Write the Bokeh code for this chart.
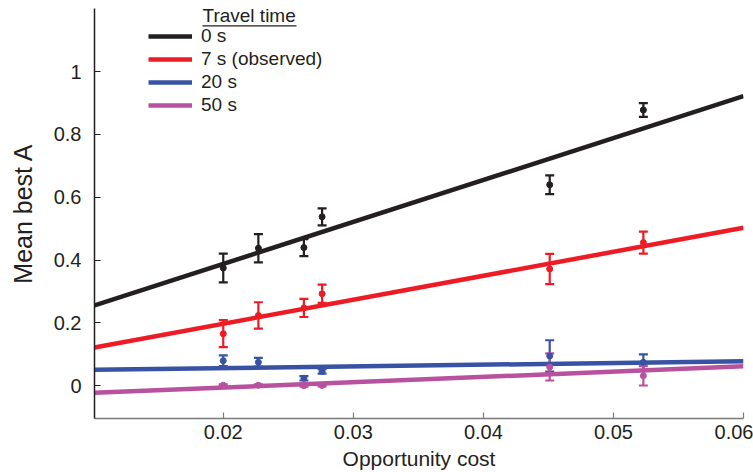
from bokeh.plotting import figure
from bokeh.models import (Range1d, FixedTicker, Legend, LegendItem, Label,
                          Whisker, ColumnDataSource, TeeHead)
from bokeh.embed import file_html
from bokeh.resources import INLINE

# ---------------- data ----------------
opportunity_cost = [0.0200, 0.0227, 0.0262, 0.0276, 0.0451, 0.0523]
travel_labels = ["0 s", "7 s (observed)", "20 s", "50 s"]

mean_0s = [0.375, 0.438, 0.440, 0.538, 0.640, 0.878]
sem_0s = [0.046, 0.045, 0.027, 0.027, 0.030, 0.022]
mean_7s = [0.166, 0.224, 0.248, 0.293, 0.372, 0.456]
sem_7s = [0.043, 0.042, 0.029, 0.029, 0.048, 0.035]
mean_20s = [0.080, 0.075, 0.024, 0.046, 0.095, 0.075]
sem_20s = [0.017, 0.014, 0.007, 0.007, 0.050, 0.025]
mean_50s = [0.002, 0.002, 0.000, 0.001, 0.060, 0.032]
sem_50s = [0.003, 0.003, 0.003, 0.003, 0.043, 0.031]

fit_x = [0.0101, 0.0600]
fit_0s = [0.256, 0.922]
fit_7s = [0.122, 0.503]
fit_20s = [0.051, 0.078]
fit_50s = [-0.022, 0.062]

x_ticks = [0.02, 0.03, 0.04, 0.05, 0.06]
x_tick_labels = ["0.02", "0.03", "0.04", "0.05", "0.06"]
y_ticks = [0.0, 0.2, 0.4, 0.6, 0.8, 1.0]
y_tick_labels = ["0", "0.2", "0.4", "0.6", "0.8", "1"]

colors = ["#231f20", "#ed1c24", "#3953a4", "#b8519e"]
FONT = "Liberation Sans"
TXT = "#231f20"

# ---------------- figure ----------------
X0, X1 = 0.0101, 0.0600
Y0, Y1 = -0.104, 1.201
W, H = 753, 472
BL, BR, BT, BB = 94, 10, 8, 53
FH = H - BT - BB  # frame height

p = figure(width=W, height=H, output_backend="svg", toolbar_location=None,
           x_range=Range1d(X0, X1), y_range=Range1d(Y0, Y1),
           min_border_left=BL, min_border_right=BR, min_border_top=BT,
           min_border_bottom=BB)
p.outline_line_color = None
p.grid.visible = False
p.background_fill_color = "white"

def dx(px):
    return X0 + (px - BL) / (W - BL - BR) * (X1 - X0)

def dy(py):
    return Y1 - (py - BT) / (H - BT - BB) * (Y1 - Y0)

# axes
xa = p.xaxis[0]
xa.ticker = FixedTicker(ticks=x_ticks)
xa.major_label_overrides = {t: l for t, l in zip(x_ticks, x_tick_labels)}
xa.axis_label = "Opportunity cost"
xa.axis_label_text_font = FONT
xa.axis_label_text_font_style = "normal"
xa.axis_label_text_font_size = "21px"
xa.axis_label_text_color = TXT
xa.axis_label_standoff = 5
xa.major_label_text_font = FONT
xa.major_label_text_font_size = "20px"
xa.major_label_text_color = TXT
xa.major_label_standoff = 6
xa.major_tick_in = 6
xa.major_tick_out = 0
xa.minor_tick_line_color = None
xa.axis_line_color = "#7a7a7a"
xa.axis_line_width = 1.5
xa.major_tick_line_color = "#7a7a7a"
xa.major_tick_line_width = 1.2

ya = p.yaxis[0]
ya.ticker = FixedTicker(ticks=y_ticks)
ya.major_label_overrides = {t: l for t, l in zip(y_ticks, y_tick_labels)}
ya.major_label_text_font = FONT
ya.major_label_text_font_size = "20px"
ya.major_label_text_color = TXT
ya.major_label_standoff = 13
ya.major_tick_in = 6
ya.major_tick_out = 0
ya.minor_tick_line_color = None
ya.axis_line_color = "#231f20"
ya.axis_line_width = 1.5
ya.major_tick_line_color = "#231f20"
ya.major_tick_line_width = 1.2
ya.axis_label = "Mean best A"
ya.axis_label_text_font = FONT
ya.axis_label_text_font_style = "normal"
ya.axis_label_text_font_size = "25px"
ya.axis_label_text_color = TXT
ya.axis_label_standoff = 14

# ---------------- series ----------------
means = [mean_0s, mean_7s, mean_20s, mean_50s]
sems = [sem_0s, sem_7s, sem_20s, sem_50s]
fits = [fit_0s, fit_7s, fit_20s, fit_50s]

for m, s, c in zip(means, sems, colors):
    src = ColumnDataSource(dict(x=opportunity_cost,
                                upper=[a + b for a, b in zip(m, s)],
                                lower=[a - b for a, b in zip(m, s)]))
    w = Whisker(source=src, base="x", upper="upper", lower="lower",
                dimension="height", line_color=c, line_width=2.2,
                upper_head=TeeHead(size=9, line_color=c, line_width=2.2),
                lower_head=TeeHead(size=9, line_color=c, line_width=2.2),
                level="underlay")
    p.add_layout(w)

line_renderers = []
for f, c in zip(fits, colors):
    r = p.line(fit_x, f, line_width=4.5, line_color=c)
    line_renderers.append(r)

for m, c in zip(means, colors):
    p.scatter(opportunity_cost, m, size=6, fill_color=c, line_color=c)

# ---------------- legend ----------------
legend = Legend(items=[LegendItem(label=lab, renderers=[r])
                       for lab, r in zip(travel_labels, line_renderers)],
                location=(148 - BL, H - BB - 117), orientation="vertical",
                glyph_width=44, glyph_height=22, label_height=22, spacing=1,
                label_standoff=9, padding=0, margin=0,
                border_line_alpha=0, background_fill_alpha=0,
                label_text_font=FONT, label_text_font_size="19px",
                label_text_color=TXT)
p.add_layout(legend)

p.add_layout(Label(x=202 - BL, y=(BT + FH) - 16, x_units="screen", y_units="screen",
                   text="Travel time", text_align="left", text_baseline="middle",
                   text_font=FONT, text_font_size="19px", text_color=TXT))
p.line([dx(202), dx(296)], [dy(25.5), dy(25.5)], line_width=1.3, line_color=TXT)

open("out.html", "w").write(file_html(p, INLINE))
